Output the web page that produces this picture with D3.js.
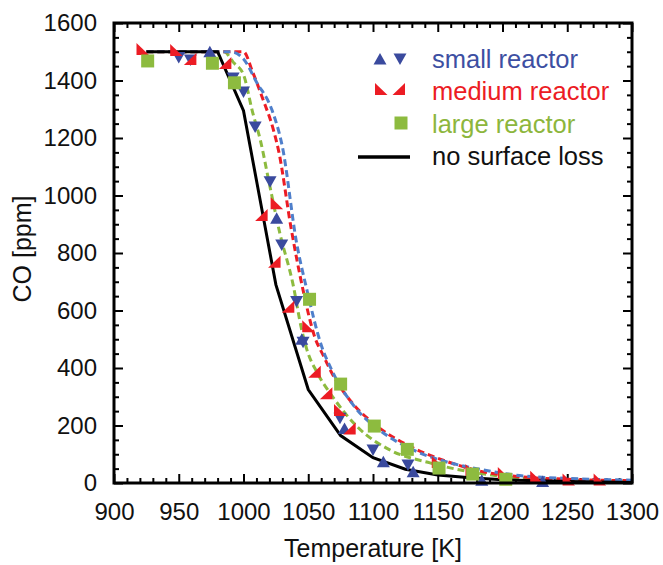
<!DOCTYPE html>
<html>
<head>
<meta charset="utf-8">
<script src="https://cdn.jsdelivr.net/npm/d3@7/dist/d3.min.js"></script>
<style>
  html, body { margin: 0; padding: 0; background: #fff; }
  svg { display: block; }
  text { font-family: "Liberation Sans", Arial, sans-serif; }
</style>
</head>
<body>
<svg id="chart" width="663" height="565"></svg>
<script>
// Simulated CO outlet concentration (dashed curves) per reactor size
const smallModel = [[925,1500],[990,1500],[1000,1475],[1010,1395],[1022,1297],[1030,1170],[1041,835],[1049,671],[1060,480],[1069,385],[1086,264],[1105,184],[1131,115],[1157,73],[1180,50],[1213,26],[1250,16],[1300,10]];
const mediumModel = [[925,1500],[1000,1500],[1007,1430],[1015,1335],[1023,1230],[1027,1158],[1037,880],[1046,671],[1055,508],[1062,440],[1067,393],[1084,278],[1100,209],[1131,122],[1157,75],[1180,44],[1213,22],[1250,13],[1300,8]];
const largeModel = [[925,1500],[985,1500],[992,1464],[1000,1420],[1007,1290],[1013,1193],[1020,1040],[1028,870],[1038,696],[1045,532],[1049,463],[1057,383],[1069,299],[1088,195],[1113,115],[1144,70],[1180,35],[1213,18],[1250,10],[1300,6]];
// Simulation without surface loss
const noLoss = [[925,1500],[980,1500],[1000,1295],[1025,690],[1050,325],[1075,165],[1100,88],[1125,48],[1150,28],[1175,18],[1200,11],[1250,5],[1300,2]];

// Measurements
const smallUp = [[974,1500],[1025.6,921],[1045,500],[1078,190],[1108,74],[1131,39],[1184,10],[1231,5]];
const smallDown = [[950,1480],[959,1471],[992,1409],[1000,1360],[1009,1238],[1020.5,1048],[1029.5,828],[1041,631],[1046,490],[1074.5,225],[1100,115],[1127,63]];
const mediumA = [[922,1510],[948,1506],[1025.6,973],[1050,545],[1074.5,254],[1150,73],[1176,45],[1201,35],[1226,22],[1251,12],[1275,12]];
const mediumB = [[959,1475],[986,1461],[1014,932],[1024,770],[1034.6,613],[1055,387],[1064,312],[1082,190]];
const large = [[926,1468],[976,1460],[993,1392],[1051,639],[1075,344],[1101,198],[1126.5,117],[1151,52],[1177,31],[1202.5,13]];

const xTicks = [900,950,1000,1050,1100,1150,1200,1250,1300];
const yTicks = [0,200,400,600,800,1000,1200,1400,1600];
const legendLabels = ["small reactor","medium reactor","large reactor","no surface loss"];

const C = {
  blue: "#3a4a9e", blueLine: "#4f7fcb", blueText: "#3d4fa2",
  red: "#ec1c24", green: "#8dbb3f", greenText: "#8db63c", black: "#000"
};

const svg = d3.select("#chart");
const L = 114, R = 632, T = 23, B = 483;
const x = d3.scaleLinear().domain([900,1300]).range([L,R]);
const y = d3.scaleLinear().domain([0,1600]).range([B,T]);

// axes with inward ticks on all four sides
const minorX = d3.range(900,1301,10).filter(v => v % 50 !== 0);
const minorY = d3.range(0,1601,50).filter(v => v % 200 !== 0);

function styleAxis(g) {
  g.select(".domain").remove();
  g.selectAll("line").attr("stroke","#000").attr("stroke-width",2);
  g.selectAll("text").attr("font-size",24).attr("fill","#111").attr("font-family",'"Liberation Sans", Arial, sans-serif');
}

svg.append("g").attr("transform",`translate(0,${B})`)
  .call(d3.axisBottom(x).tickValues(xTicks).tickSize(-9).tickPadding(20).tickFormat(d3.format("d"))).call(styleAxis);
svg.append("g").attr("transform",`translate(0,${B})`)
  .call(d3.axisBottom(x).tickValues(minorX).tickSize(-5).tickFormat("")).call(styleAxis);
svg.append("g").attr("transform",`translate(0,${T})`)
  .call(d3.axisTop(x).tickValues(xTicks).tickSize(-9).tickFormat("")).call(styleAxis);
svg.append("g").attr("transform",`translate(0,${T})`)
  .call(d3.axisTop(x).tickValues(minorX).tickSize(-5).tickFormat("")).call(styleAxis);
svg.append("g").attr("transform",`translate(${L},0)`)
  .call(d3.axisLeft(y).tickValues(yTicks).tickSize(-9).tickPadding(17).tickFormat(d3.format("d"))).call(styleAxis);
svg.append("g").attr("transform",`translate(${L},0)`)
  .call(d3.axisLeft(y).tickValues(minorY).tickSize(-5).tickFormat("")).call(styleAxis);
svg.append("g").attr("transform",`translate(${R},0)`)
  .call(d3.axisRight(y).tickValues(yTicks).tickSize(-9).tickFormat("")).call(styleAxis);
svg.append("g").attr("transform",`translate(${R},0)`)
  .call(d3.axisRight(y).tickValues(minorY).tickSize(-5).tickFormat("")).call(styleAxis);

// axis titles
svg.append("text").attr("x",(L+R)/2).attr("y",557).attr("text-anchor","middle")
  .attr("font-size",25).attr("fill","#111").text("Temperature [K]");
svg.append("text").attr("transform",`translate(31,${(T+B)/2 - 4}) rotate(-90)`).attr("text-anchor","middle")
  .attr("font-size",25).attr("fill","#111").text("CO [ppm]");

// curves
const plot = svg.append("g");
const smooth = d3.line().x(d => x(d[0])).y(d => y(d[1])).curve(d3.curveMonotoneX);
const straight = d3.line().x(d => x(d[0])).y(d => y(d[1]));

[[largeModel,C.green],[mediumModel,C.red],[smallModel,C.blueLine]].forEach(([data,col]) => {
  plot.append("path").attr("d",smooth(data)).attr("fill","none").attr("stroke",col)
    .attr("stroke-width",3).attr("stroke-dasharray","7,4");
});
plot.append("path").attr("d",straight(noLoss)).attr("fill","none").attr("stroke",C.black).attr("stroke-width",3);

// marker shapes
const shapes = {
  up: "M0,-6L6.5,5.5L-6.5,5.5Z",
  down: "M0,6L6.5,-5.5L-6.5,-5.5Z",
  cornerL: "M-6,-6L-6,6L6.5,6Z",
  cornerR: "M6,-6L6,6L-6.5,6Z",
  square: "M-6.5,-6.5H6.5V6.5H-6.5Z"
};
function markers(data, shape, col) {
  plot.append("g").selectAll("path").data(data).join("path")
    .attr("d",shapes[shape]).attr("fill",col)
    .attr("transform",d => `translate(${x(d[0])},${y(d[1])})`);
}
markers(smallDown,"down",C.blue);
markers(smallUp,"up",C.blue);
markers(mediumA,"cornerL",C.red);
markers(mediumB,"cornerR",C.red);
markers(large,"square",C.green);

// frame
svg.append("rect").attr("x",L).attr("y",T).attr("width",R-L).attr("height",B-T)
  .attr("fill","none").attr("stroke","#000").attr("stroke-width",3);

// legend
const lg = svg.append("g");
lg.append("path").attr("d",shapes.up).attr("fill",C.blue).attr("transform","translate(380,59)");
lg.append("path").attr("d",shapes.down).attr("fill",C.blue).attr("transform","translate(400,59)");
lg.append("path").attr("d",shapes.cornerL).attr("fill",C.red).attr("transform","translate(381,89)");
lg.append("path").attr("d",shapes.cornerR).attr("fill",C.red).attr("transform","translate(399,89)");
lg.append("path").attr("d",shapes.square).attr("fill",C.green).attr("transform","translate(401,123)");
lg.append("line").attr("x1",358).attr("x2",410).attr("y1",157).attr("y2",157).attr("stroke","#000").attr("stroke-width",3.5);
const legCols = [C.blueText, C.red, C.greenText, "#111"];
legendLabels.forEach((t,i) => {
  lg.append("text").attr("x",432).attr("y",68 + i*32.3).attr("font-size",25.5)
    .attr("fill",legCols[i]).text(t);
});
</script>
</body>
</html>
